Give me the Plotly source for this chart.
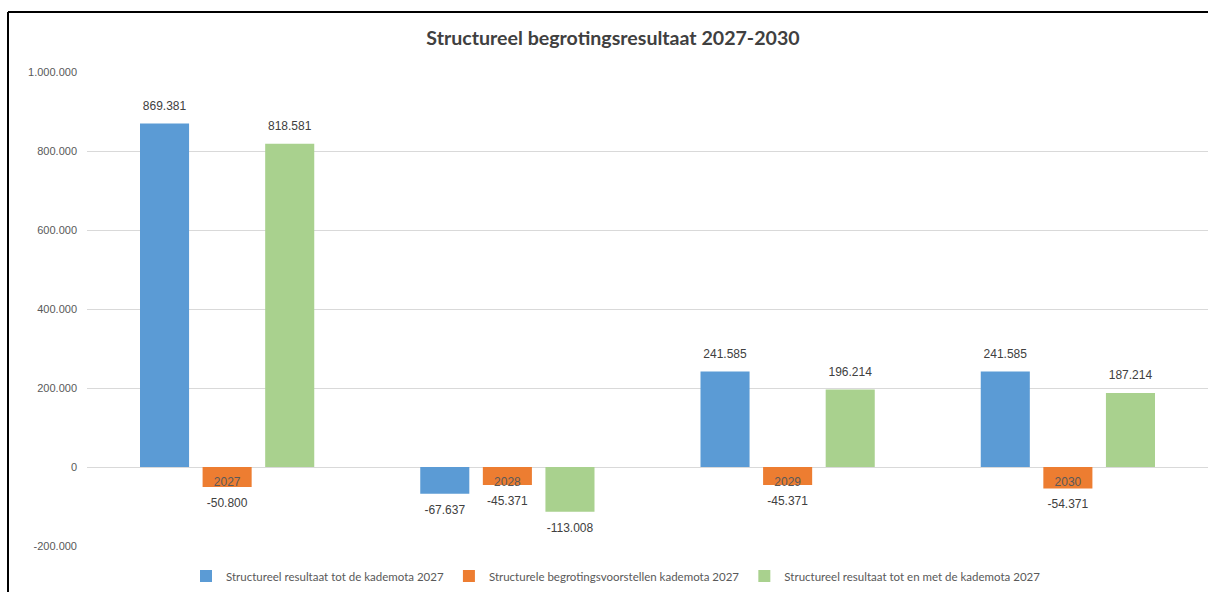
import plotly.graph_objects as go

categories = ["2027", "2028", "2029", "2030"]
series_names = [
    "Structureel resultaat tot de kademota 2027",
    "Structurele begrotingsvoorstellen kademota 2027",
    "Structureel resultaat tot en met de kademota 2027",
]
blue_vals = [869381, -67637, 241585, 241585]
orange_vals = [-50800, -45371, -45371, -54371]
green_vals = [818581, -113008, 196214, 187214]
colors = ["#5B9BD5", "#ED7D31", "#A9D18E"]

tick_vals = [-200000, 0, 200000, 400000, 600000, 800000, 1000000]


def fmt(v):
    s = f"{abs(v):,}".replace(",", ".")
    return ("-" if v < 0 else "") + s


W, H = 1208, 592
L, R, T, B = 87, 0, 72, 46
pw, ph = W - L - R, H - T - B
GAP = 0.33

fig = go.Figure()
for i, (name, vals, col) in enumerate(zip(series_names, [blue_vals, orange_vals, green_vals], colors)):
    fig.add_trace(go.Bar(
        x=categories, y=vals, name=name, marker=dict(color=col, line=dict(width=0)),
        offsetgroup=str(i),
    ))
# data labels, aligned with the bars through grouped scatter traces
for i, vals in enumerate([blue_vals, orange_vals, green_vals]):
    fig.add_trace(go.Scatter(
        x=categories, y=vals, mode="markers+text", showlegend=False, hoverinfo="skip",
        offsetgroup=str(i), cliponaxis=False,
        marker=dict(size=16, opacity=0),
        text=[fmt(v) for v in vals],
        textposition=["top center" if v >= 0 else "bottom center" for v in vals],
        textfont=dict(family="Liberation Sans, Arial", size=12, color="#404040"),
    ))

fig.update_layout(
    width=W, height=H,
    margin=dict(l=L, r=R, t=T, b=B, autoexpand=False),
    paper_bgcolor="white", plot_bgcolor="white",
    barmode="group", bargap=GAP, bargroupgap=0.216,
    scattermode="group", scattergap=GAP,
    title=dict(text="Structureel begrotingsresultaat 2027-2030", x=(613 - L) / pw, xref="paper",
               xanchor="center", y=1 - 38 / H, yanchor="middle",
               font=dict(family="Lato, Open Sans", size=19.6, color="#404040", weight="bold")),
    legend=dict(orientation="h", xref="paper", x=(616 - L) / pw, xanchor="center",
                y=-30 / ph, yanchor="middle",
                font=dict(family="Lato, Open Sans", size=11.5, color="#595959"),
                itemwidth=30, traceorder="normal"),
    showlegend=True,
)
fig.update_yaxes(
    range=[-200000, 1000000], tickvals=tick_vals, ticktext=[fmt(v) for v in tick_vals],
    showgrid=True, gridcolor="#D9D9D9", gridwidth=1, zeroline=True, zerolinecolor="#D9D9D9",
    zerolinewidth=1, showline=False, ticks="", ticklabelstandoff=9,
    tickfont=dict(family="Liberation Sans, Arial", size=11, color="#595959"),
)
fig.update_xaxes(
    type="category", anchor="free", position=(0 - (-200000)) / 1200000,
    showline=False, ticks="", showgrid=False, ticklabelstandoff=6,
    tickfont=dict(family="Liberation Sans, Arial", size=12, color="#595959"),
)

# chart frame (left and top edges visible in the reference)
x0 = (8 - L) / pw
y0 = (H - B - 12) / ph
fig.add_shape(type="line", xref="paper", yref="paper", x0=x0, x1=1.01, y0=y0, y1=y0,
              line=dict(color="black", width=2))
fig.add_shape(type="line", xref="paper", yref="paper", x0=x0, x1=x0, y0=y0, y1=-0.2,
              line=dict(color="black", width=2))

fig.write_html("out.html", config={"displayModeBar": False},
               post_script="document.body.style.margin='0';document.body.style.overflow='hidden';")
